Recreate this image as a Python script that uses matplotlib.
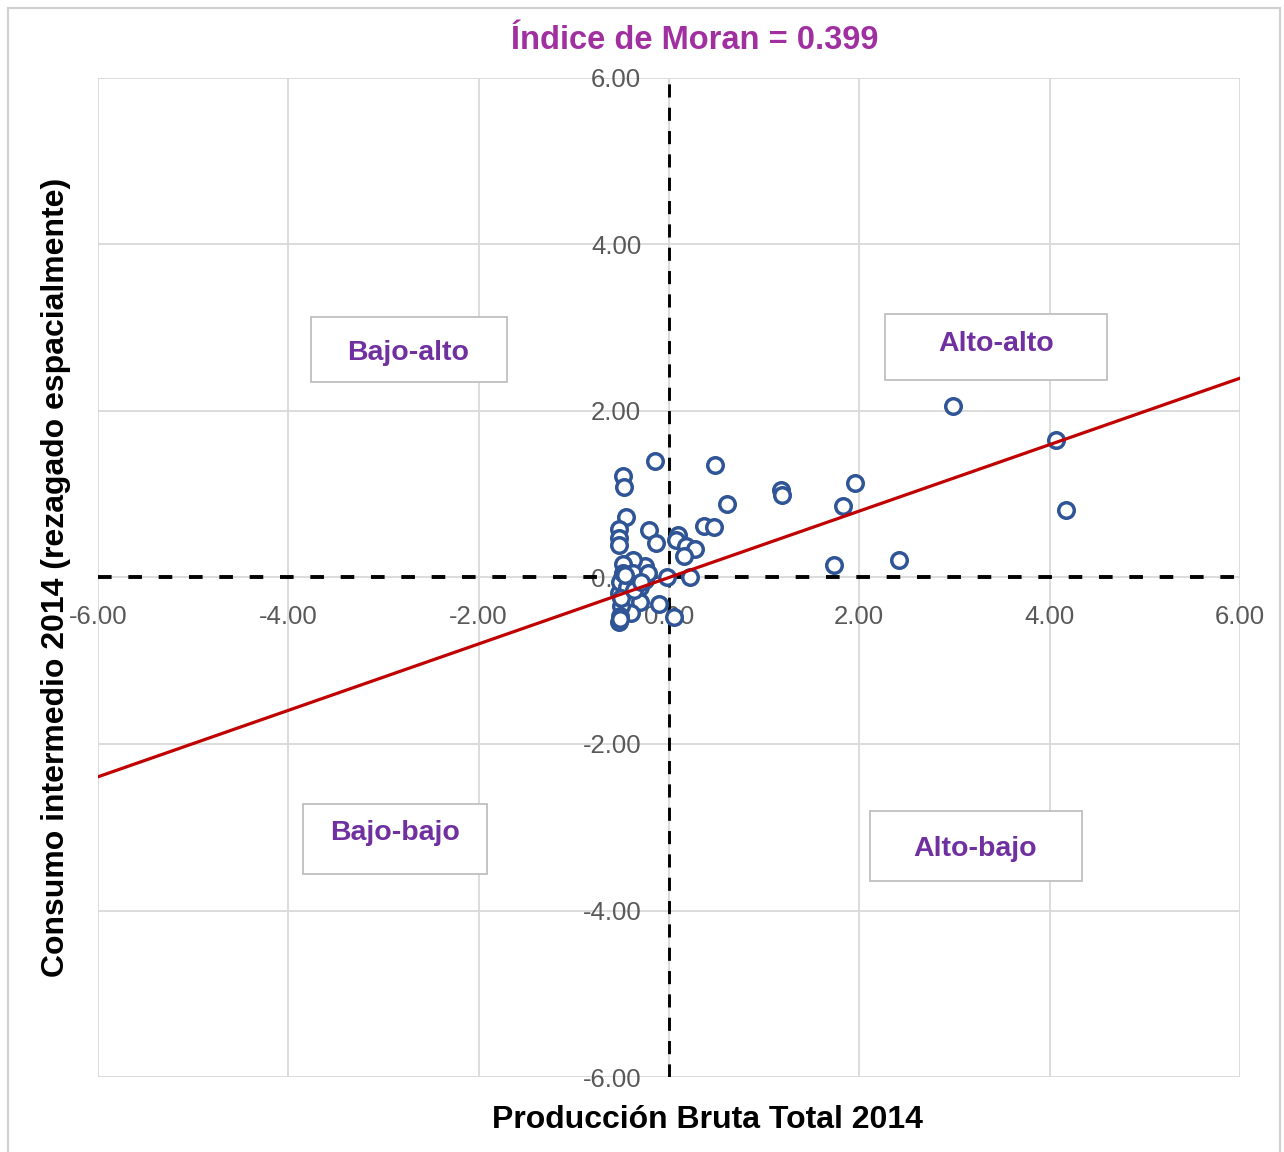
import matplotlib.pyplot as plt
from matplotlib.patches import Rectangle
import numpy as np

# valores estandarizados
x_vals = [2.98, 4.07, 4.17, 1.95, 1.83, 1.18, 1.19, 1.73, 2.42, 0.48,
          0.61, 0.37, 0.47, -0.15, -0.48, -0.47, -0.45, -0.52, -0.52, -0.52,
          -0.21, -0.14, 0.10, 0.07, 0.18, 0.27, 0.16, -0.02, 0.22, -0.10,
          0.05, -0.25, -0.38, -0.48, -0.25, -0.30, -0.30, -0.40, -0.50, -0.51,
          -0.52, -0.53, -0.51, -0.48, -0.38, -0.44, -0.22, -0.50, -0.37, -0.29,
          -0.46, -0.51]
y_vals = [2.06, 1.65, 0.81, 1.13, 0.86, 1.05, 0.99, 0.15, 0.21, 1.35,
          0.88, 0.62, 0.61, 1.40, 1.22, 1.09, 0.73, 0.58, 0.47, 0.39,
          0.57, 0.42, 0.51, 0.45, 0.38, 0.34, 0.26, 0.00, 0.01, -0.32,
          -0.48, 0.14, 0.21, 0.16, -0.03, -0.11, -0.29, -0.43, -0.34, -0.46,
          -0.53, -0.19, -0.06, 0.05, 0.05, -0.11, 0.05, -0.25, -0.15, -0.05,
          0.03, -0.50]
moran_i = 0.399
ticks = [-6, -4, -2, 0, 2, 4, 6]
quadrants = ['Bajo-alto', 'Alto-alto', 'Bajo-bajo', 'Alto-bajo']

fam = ['Liberation Sans', 'DejaVu Sans']
gray = '#595959'
purple = '#7030a0'

fig = plt.figure(figsize=(12.84, 11.52), dpi=100)
ax = fig.add_axes([0.0763, 0.0651, 0.8894, 0.8672])

# marco exterior
fig.patches.append(Rectangle((0.006, -0.01), 0.991, 1.003, transform=fig.transFigure,
                             fill=False, edgecolor='#d0d0d0', linewidth=1.5))

# ejes cruzando en cero (antes de tocar las etiquetas, set_position las reinicia)
for s in ['top', 'right']:
    ax.spines[s].set_visible(False)
ax.spines['left'].set_position(('data', 0))
ax.spines['bottom'].set_position(('data', 0))
ax.spines['left'].set_color('none')
ax.spines['bottom'].set_color('none')

ax.set_xlim(-6, 6)
ax.set_ylim(-6, 6)
ax.set_xticks(ticks)
ax.set_yticks(ticks)
ax.set_xticklabels([f'{t:.2f}' for t in ticks], fontfamily=fam, fontsize=18.5, color=gray)
ax.set_yticklabels([f'{t:.2f}' for t in ticks], fontfamily=fam, fontsize=18.5, color=gray)
ax.tick_params(axis='x', length=0, pad=20)
ax.tick_params(axis='y', length=0, pad=20)
ax.grid(True, color='#d9d9d9', linewidth=1.3, zorder=0)
ax.set_axisbelow(True)

# ejes punteados
ax.axhline(0, color='black', linewidth=2.8, linestyle=(0, (3.5, 4.3)), zorder=2)
ax.axvline(0, color='black', linewidth=2.1, linestyle=(0, (4.5, 3.5)), zorder=2)

ax.scatter(x_vals, y_vals, s=125, facecolors='white', edgecolors='#2f5597',
           linewidths=2.5, zorder=3)

xl = np.array([-6, 6])
ax.plot(xl, moran_i * xl, color='#c00000', linewidth=2.3, zorder=4)

# cuadros de cuadrantes (coordenadas de ejes)
boxes = [(0.1865, 0.6957, 0.1716, 0.065, 0.2715, 0.7247),
         (0.6891, 0.6977, 0.1944, 0.0661, 0.7863, 0.7337),
         (0.1795, 0.2032, 0.1611, 0.0701, 0.2601, 0.2442),
         (0.6760, 0.1962, 0.1856, 0.0701, 0.7680, 0.2282)]
for name, (bx, by, bw, bh, tx, ty) in zip(quadrants, boxes):
    ax.add_patch(Rectangle((bx, by), bw, bh, transform=ax.transAxes,
                           facecolor='white', edgecolor='#bfbfbf', linewidth=1.3, zorder=5))
    ax.text(tx, ty, name, transform=ax.transAxes, ha='center', va='center',
            fontsize=20.5, fontweight='bold', color=purple, fontfamily=fam, zorder=6)

fig.text(0.541, 0.965, f'Índice de Moran = {moran_i}', ha='center', va='center',
         fontsize=23.5, fontweight='bold', color='#a030a0', fontfamily=fam)
fig.text(0.551, 0.028, 'Producción Bruta Total 2014', ha='center', va='center',
         fontsize=23, fontweight='bold', color='black', fontfamily=fam)
fig.text(0.044, 0.499, 'Consumo intermedio 2014 (rezagado espacialmente)', ha='center',
         va='center', rotation=90, fontsize=23, fontweight='bold', color='black',
         fontfamily=fam)

fig.savefig('out.png', dpi=100)
